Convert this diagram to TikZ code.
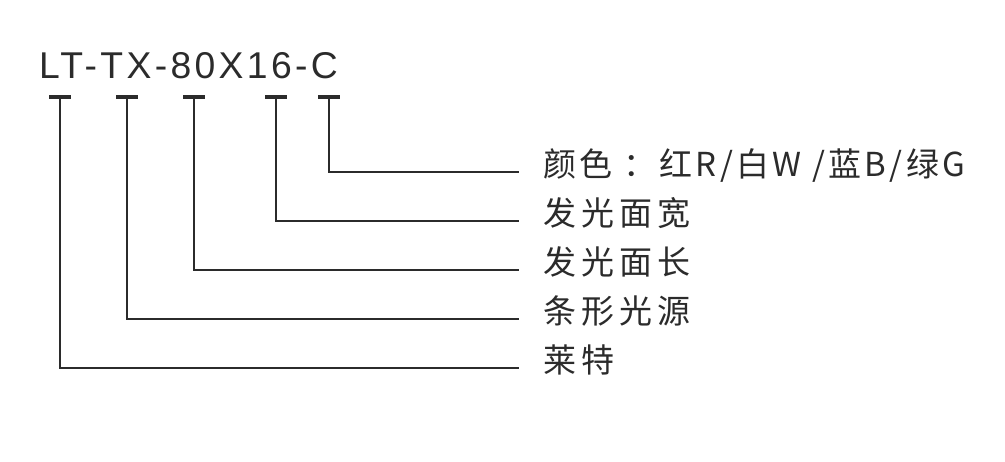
\documentclass[tikz,border=0pt]{standalone}
\usepackage{fontspec}
\newfontfamily\cjkfont[LetterSpace=15]{Noto Sans CJK SC}
\newfontfamily\cjkfonttight[LetterSpace=10]{Noto Sans CJK SC}
\newfontfamily\titlefont[LetterSpace=9]{Liberation Sans}
\definecolor{ink}{HTML}{2B2B2B}
\begin{document}
\begin{tikzpicture}[x=1pt,y=-1pt,
  tick/.style={rectangle,fill=ink,minimum width=22pt,minimum height=4pt,inner sep=0pt},
  label/.style={anchor=base west,inner xsep=24pt,inner ysep=0pt,text=ink,font=\cjkfont\fontsize{33}{33}\selectfont},
  conn/.style={draw=ink,line width=2pt}]
\useasboundingbox (0,0) rectangle (1005,462);
\node[anchor=base west,inner sep=0pt,text=ink,font=\titlefont\fontsize{37.3}{37.3}\selectfont] (title) at (39,79) {LT-TX-80X16-C};
\node[tick] (t1) at (59.5,97) {};
\node[tick] (t2) at (127,97) {};
\node[tick] (t3) at (193.5,97) {};
\node[tick] (t4) at (275.5,97) {};
\node[tick] (t5) at (328.5,97) {};
\node[label,font=\cjkfonttight\fontsize{33}{33}\selectfont] (l1) at (519,177) {颜色 ：红R/白W /蓝B/绿G};
\node[label] (l2) at (519,226) {发光面宽};
\node[label] (l3) at (519,275) {发光面长};
\node[label] (l4) at (519,324) {条形光源};
\node[label] (l5) at (519,373) {莱特};
\draw[conn] (t5.center) |- ([yshift=5pt]l1.base west);
\draw[conn] (t4.center) |- ([yshift=5pt]l2.base west);
\draw[conn] (t3.center) |- ([yshift=5pt]l3.base west);
\draw[conn] (t2.center) |- ([yshift=5pt]l4.base west);
\draw[conn] (t1.center) |- ([yshift=5pt]l5.base west);
\end{tikzpicture}
\end{document}
